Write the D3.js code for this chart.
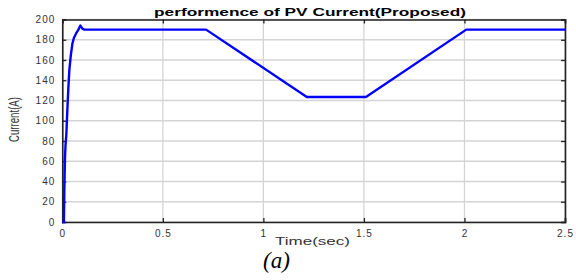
<!DOCTYPE html>
<html>
<head>
<meta charset="utf-8">
<script src="https://cdn.jsdelivr.net/npm/d3@7"></script>
<style>
  body { margin: 0; background: #fff; }
  svg { display: block; }
</style>
</head>
<body>
<div class="chart"></div>
<script>
// time (s) and PV current (A)
const timeSec = [0, 0.008, 0.010, 0.013, 0.016, 0.020, 0.025, 0.030, 0.035, 0.042, 0.050, 0.058, 0.068, 0.080, 0.090, 0.100, 0.110, 0.300, 0.500, 0.715, 1.216, 1.510, 2.009, 2.200, 2.500];
const currentA = [0, 0, 30, 62, 76, 86, 110, 132, 150, 164, 176, 182, 186, 190, 194, 191, 190, 190, 190, 190, 123.5, 123.5, 190, 190, 190];
const xTicks = [0, 0.5, 1, 1.5, 2, 2.5];
const yTicks = [0, 20, 40, 60, 80, 100, 120, 140, 160, 180, 200];

(function() {
  'use strict';

  let width = 576,
      height = 280,
      margin = { top: 19.5, right: 11, bottom: 58, left: 62.3 },
      innerW = width - margin.left - margin.right,
      innerH = height - margin.top - margin.bottom,

      svg = d3.select('.chart')
        .append('svg')
        .attr('width', width)
        .attr('height', height),

      g = svg.append('g')
        .attr('transform', `translate(${margin.left},${margin.top})`),

      x = d3.scaleLinear().domain([0, 2.5]).range([0, innerW]),
      y = d3.scaleLinear().domain([0, 200]).range([innerH, 0]);

  // grid
  g.append('g')
    .selectAll('line')
    .data(xTicks)
    .enter()
    .append('line')
      .attr('x1', d => x(d)).attr('x2', d => x(d))
      .attr('y1', 0).attr('y2', innerH)
      .attr('stroke', '#d4d4d4').attr('stroke-width', 1.3);

  g.append('g')
    .selectAll('line')
    .data(yTicks)
    .enter()
    .append('line')
      .attr('x1', 0).attr('x2', innerW)
      .attr('y1', d => y(d)).attr('y2', d => y(d))
      .attr('stroke', '#d4d4d4').attr('stroke-width', 1.3);

  // axes
  let tickFont = g => g.selectAll('text')
    .attr('font-family', 'Liberation Sans, Arial, sans-serif')
    .attr('font-size', 10)
    .attr('letter-spacing', 1)
    .attr('fill', '#333');

  let xAxis = g.append('g')
    .attr('transform', `translate(0,${innerH})`)
    .call(d3.axisBottom(x).tickValues(xTicks).tickSize(-4).tickPadding(8).tickFormat(d3.format('')));
  xAxis.call(tickFont);

  let yAxis = g.append('g')
    .call(d3.axisLeft(y).tickValues(yTicks).tickSize(-4).tickPadding(7));
  yAxis.call(tickFont);

  g.append('g')
    .call(d3.axisTop(x).tickValues(xTicks).tickSize(-4).tickFormat(''));
  g.append('g')
    .attr('transform', `translate(${innerW},0)`)
    .call(d3.axisRight(y).tickValues(yTicks).tickSize(-4).tickFormat(''));

  g.selectAll('.domain').attr('stroke', '#222').attr('stroke-width', 1.6);
  g.selectAll('.tick line').attr('stroke', '#222').attr('stroke-width', 1.3);

  // series
  let data = timeSec.map((t, i) => ({ t: t, v: currentA[i] }));
  g.append('path')
    .datum(data)
    .attr('fill', 'none')
    .attr('stroke', '#0000ff')
    .attr('stroke-width', 2.4)
    .attr('stroke-linejoin', 'round')
    .attr('d', d3.line().x(d => x(d.t)).y(d => y(d.v)));

  // labels
  svg.append('text')
    .attr('x', 154).attr('y', 16)
    .attr('textLength', 312).attr('lengthAdjust', 'spacingAndGlyphs')
    .attr('font-family', 'Liberation Sans, Arial, sans-serif')
    .attr('font-weight', 'bold').attr('font-size', 11.5)
    .text('performence of PV Current(Proposed)');

  svg.append('text')
    .attr('x', 275).attr('y', 245)
    .attr('textLength', 75).attr('lengthAdjust', 'spacingAndGlyphs')
    .attr('font-family', 'Liberation Sans, Arial, sans-serif')
    .attr('font-size', 10).attr('fill', '#333')
    .text('Time(sec)');

  svg.append('text')
    .attr('transform', 'translate(18.5,142) rotate(-90)')
    .attr('textLength', 45).attr('lengthAdjust', 'spacingAndGlyphs')
    .attr('font-family', 'Liberation Sans Narrow, Liberation Sans, Arial, sans-serif')
    .attr('font-size', 14).attr('fill', '#333')
    .text('Current(A)');

  svg.append('text')
    .attr('x', 263).attr('y', 268)
    .attr('font-family', 'Liberation Serif, Times New Roman, serif')
    .attr('font-style', 'italic').attr('font-size', 23)
    .text('(a)');
})();
</script>
</body>
</html>
